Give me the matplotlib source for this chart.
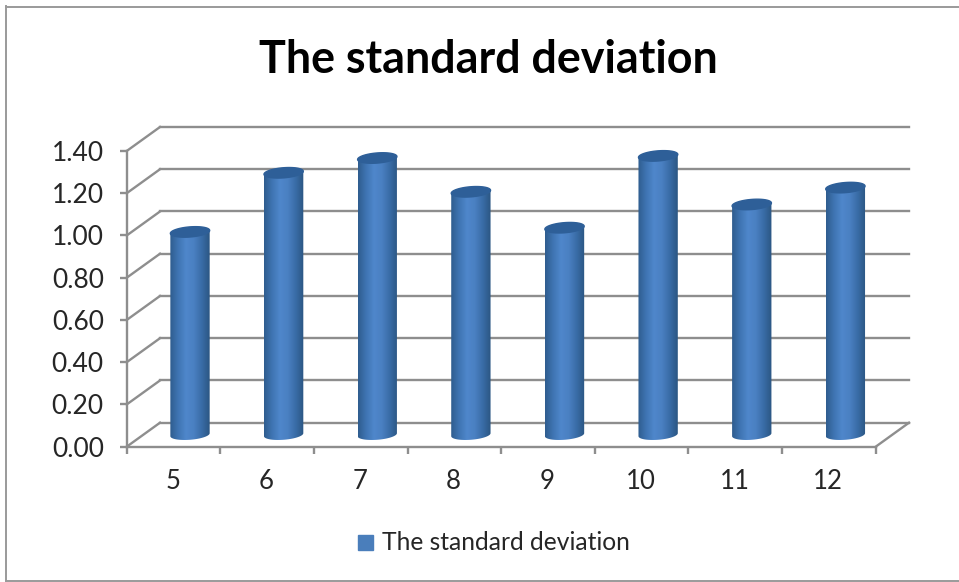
import numpy as np
import matplotlib
matplotlib.use("Agg")
import matplotlib.pyplot as plt
from matplotlib.colors import LinearSegmentedColormap
from matplotlib.lines import Line2D
from matplotlib.patches import Polygon, Rectangle
from matplotlib.transforms import Affine2D

categories = ["5", "6", "7", "8", "9", "10", "11", "12"]
values = [0.96, 1.24, 1.31, 1.15, 0.98, 1.32, 1.09, 1.17]
y_ticks = [0.0, 0.2, 0.4, 0.6, 0.8, 1.0, 1.2, 1.4]
series_name = "The standard deviation"

W, H = 959, 582
grid_col = "#8e8e8e"
text_col = "#262626"
plt.rcParams["font.family"] = ["Lato", "DejaVu Sans"]

fig = plt.figure(figsize=(W / 100, H / 100), dpi=100)
# front plane of the fake 3d box
left, right, top, bottom = 126.7, 875.7, 151.0, 446.7
ax = fig.add_axes([left / W, 1 - bottom / H, (right - left) / W, (bottom - top) / H])
ax.set_xlim(0, len(categories))
ax.set_ylim(0, 1.4)
ax.patch.set_alpha(0)

# depth offsets in pixels, back wall and the middle where the bars stand
back = ax.transData + Affine2D().translate(33.3, 24)
mid = ax.transData + Affine2D().translate(16.5, 12)

for t in y_ticks:
    ax.plot([0, len(categories)], [t, t], color=grid_col, lw=1.7, transform=back, clip_on=False, zorder=1)
    # diagonal from the front axis to the back wall
    p0 = ax.transData.transform((0, t))
    p1 = back.transform((0, t))
    ax.add_line(Line2D([p0[0], p1[0]], [p0[1], p1[1]], color=grid_col, lw=1.7, transform=None, zorder=1, clip_on=False))

p0 = ax.transData.transform((len(categories), 0))
p1 = back.transform((len(categories), 0))
ax.add_line(Line2D([p0[0], p1[0]], [p0[1], p1[1]], color=grid_col, lw=1.7, transform=None, zorder=1, clip_on=False))

cmap = LinearSegmentedColormap.from_list("cyl", ["#2f5c8e", "#3f74b2", "#4f87cb", "#4a80c2", "#396ca6", "#2b5682"])
grad = np.linspace(0, 1, 128).reshape(1, -1)

bar_w = 0.42
semi_h = 0.024
skew = 0.007
th = np.linspace(0, 2 * np.pi, 91)

for i, v in enumerate(values):
    cx = i + 0.5
    a = bar_w / 2
    ex = cx + a * np.cos(th)
    ring = np.sin(th) * semi_h + skew * np.cos(th)
    # body: lower half of the base ellipse, then straight up to the top
    half = th[45:]
    bx = cx + a * np.cos(half)
    by = np.sin(half) * semi_h + skew * np.cos(half)
    pts = np.column_stack([np.r_[bx, cx + a, cx - a], np.r_[by, v + skew, v - skew]])
    body = Polygon(pts, closed=True, transform=mid, facecolor="none", edgecolor="none")
    ax.add_patch(body)
    im = ax.imshow(grad, extent=[cx - a, cx + a, -0.05, v + 0.05], aspect="auto", cmap=cmap,
                   transform=mid, zorder=3, clip_on=True)
    im.set_clip_path(body)
    ax.fill(ex, v + ring, color="#2e5f98", transform=mid, zorder=4, clip_on=False)

ax.set_xlim(0, len(categories))
ax.set_ylim(0, 1.4)

for s in ["top", "right"]:
    ax.spines[s].set_visible(False)
for s in ["left", "bottom"]:
    ax.spines[s].set_color(grid_col)
    ax.spines[s].set_linewidth(1.7)
    ax.spines[s].set_zorder(5)

ax.set_yticks(y_ticks)
ax.set_yticklabels([f"{t:.2f}" for t in y_ticks])
ax.set_xticks(np.arange(len(categories) + 1))
ax.set_xticklabels([])
ax.tick_params(axis="y", length=5, width=1.7, color=grid_col, labelsize=19, labelcolor=text_col, pad=11.5)
ax.tick_params(axis="x", length=5, width=1.7, color=grid_col)
for i, c in enumerate(categories):
    ax.annotate(c, (i + 0.5, 0), xytext=(-0.5, -25), textcoords="offset points", ha="center", va="center",
                fontsize=18.5, color=text_col, annotation_clip=False)

fig.text(488 / W, 1 - 60 / H, series_name, ha="center", va="center", fontsize=32.3, fontweight="bold", color="#000000")

# legend
fig.add_artist(Rectangle((358 / W, 1 - 550 / H), 15 / W, 15 / H, transform=fig.transFigure, color="#4a7ebb"))
fig.text(382 / W, 1 - 542 / H, series_name, ha="left", va="center", fontsize=17.7, color=text_col)

# outer chart border
for xs, ys in [([6, 6], [6, 581]), ([6, 959], [6.5, 6.5]), ([6, 959], [581, 581])]:
    fig.add_artist(Line2D([x / W for x in xs], [1 - y / H for y in ys], color="#9a9a9a", lw=1.4,
                          transform=fig.transFigure))

fig.savefig("out.png", dpi=100, facecolor="white")
